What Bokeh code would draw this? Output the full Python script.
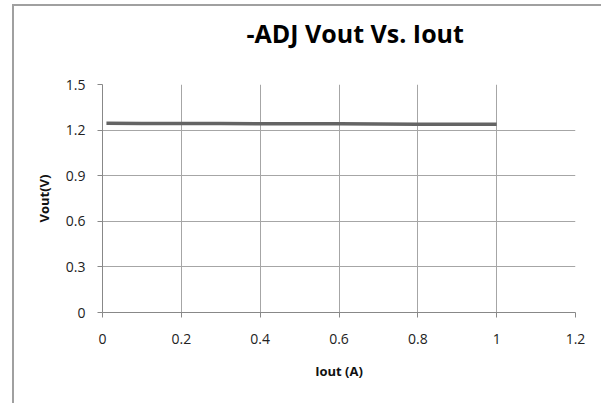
from bokeh.plotting import figure
from bokeh.models import ColumnDataSource, FixedTicker, Title
from bokeh.embed import file_html
from bokeh.resources import INLINE

# Data
iout = [0.01, 0.1, 0.2, 0.3, 0.4, 0.5, 0.6, 0.7, 0.8, 0.9, 1.0]
vout = [1.245, 1.244, 1.244, 1.243, 1.242, 1.241, 1.241, 1.240, 1.239, 1.239, 1.238]
x_ticks = [0, 0.2, 0.4, 0.6, 0.8, 1.0, 1.2]
y_ticks = [0, 0.3, 0.6, 0.9, 1.2, 1.5]
title_text = "-ADJ Vout Vs. Iout"
x_label = "Iout (A)"
y_label = "Vout(V)"

FONT = "Open Sans"
W, H = 589, 399

p = figure(width=W, height=H, output_backend="svg", toolbar_location=None,
           x_range=(0, 1.2), y_range=(0, 1.5),
           min_border_left=88, min_border_right=28, min_border_top=78, min_border_bottom=93)
p.styles = {"margin-left": "12px", "margin-top": "4px",
            "border-left": "2px solid #a0a0a0", "border-top": "2px solid #a0a0a0"}
p.outline_line_color = None
p.background_fill_color = "white"
p.border_fill_color = "white"

src = ColumnDataSource(dict(x=iout, y=vout))
p.line("x", "y", source=src, line_color="#646464", line_width=3.5)

for ax, ticks in ((p.xaxis[0], x_ticks), (p.yaxis[0], y_ticks)):
    ax.ticker = FixedTicker(ticks=ticks)
    ax.axis_line_color = "#888888"
    ax.major_tick_line_color = "#888888"
    ax.major_tick_out = 5
    ax.major_tick_in = 0
    ax.minor_tick_line_color = None
    ax.major_label_text_font = FONT
    ax.major_label_text_font_size = "14px"
    ax.major_label_text_color = "#222222"
    ax.axis_label_text_font = FONT
    ax.axis_label_text_font_size = "13px"
    ax.axis_label_text_font_style = "bold"
    ax.axis_label_text_color = "#111111"

p.xaxis.axis_label = x_label
p.yaxis.axis_label = y_label
p.xaxis.major_label_standoff = 16
p.yaxis.major_label_standoff = 12
p.xaxis.axis_label_standoff = 15
p.yaxis.axis_label_standoff = 10
p.xaxis.major_label_overrides = {0: "0", 1.0: "1"}
p.yaxis.major_label_overrides = {0: "0"}

p.xgrid.ticker = FixedTicker(ticks=x_ticks)
p.ygrid.ticker = FixedTicker(ticks=y_ticks)
p.grid.grid_line_color = "#a6a6a6"
p.grid.grid_line_width = 1

# spacer between plot area and title (nearest the frame), then the title itself
spacer = Title(text=" ", text_font=FONT, text_font_size="10px", standoff=19)
p.add_layout(spacer, "above")
t = Title(text=title_text, align="left", offset=144, standoff=0,
          text_font=FONT, text_font_size="25px", text_font_style="bold", text_color="#000000")
p.add_layout(t, "above")

open("out.html", "w").write(file_html(p, INLINE))
